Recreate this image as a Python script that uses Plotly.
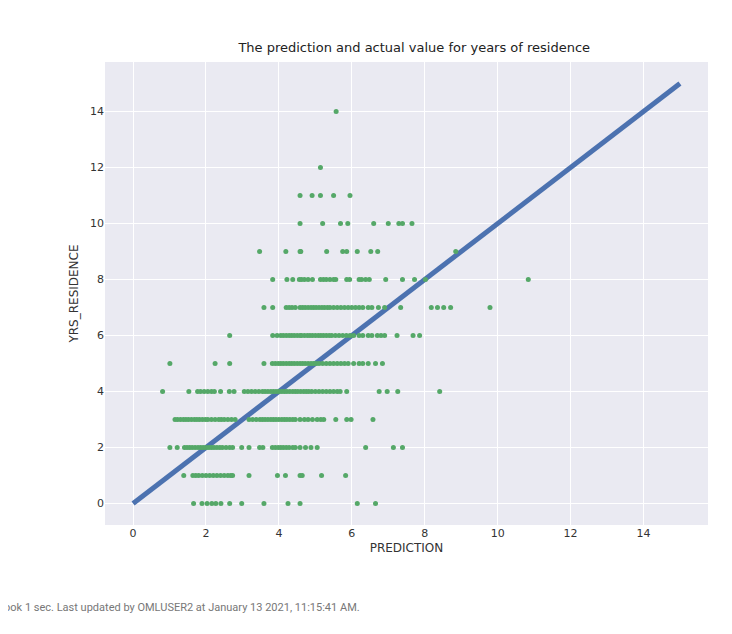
import plotly.graph_objects as go

# actual YRS_RESIDENCE rows and predictions observed in each row
rows = {
    14: [5.57],
    12: [5.14],
    11: [4.58, 4.91, 5.14, 5.5, 5.95],
    10: [4.58, 5.2, 5.69, 5.89, 6.6, 7.0, 7.29, 7.39, 7.65],
    9: [3.47, 4.19, 4.58, 4.6, 5.31, 5.75, 5.86, 6.15, 6.52, 6.71, 8.85],
    8: [3.83, 4.22, 4.38, 4.56, 4.62, 4.7, 4.8, 4.92, 5.14, 5.22, 5.3, 5.4, 5.5, 5.56,
        5.86, 5.94, 6.2, 6.27, 6.38, 6.48, 6.93, 7.39, 7.72, 8.02, 10.84],
    7: [3.59, 3.83, 4.2, 4.28, 4.36, 4.45, 4.58, 4.65, 4.72, 4.8, 4.88, 4.95, 5.02, 5.1,
        5.18, 5.25, 5.33, 5.4, 5.5, 5.6, 5.7, 5.8, 5.9, 6.0, 6.1, 6.2, 6.3, 6.45, 6.55,
        6.73, 6.9, 7.34, 8.18, 8.35, 8.52, 8.71, 9.79],
    6: [2.65, 3.83, 3.95, 4.05, 4.12, 4.2, 4.28, 4.35, 4.42, 4.5, 4.58, 4.62, 4.7, 4.78,
        4.85, 4.92, 5.0, 5.08, 5.15, 5.22, 5.3, 5.38, 5.45, 5.55, 5.65, 5.75, 5.85, 5.95,
        6.05, 6.2, 6.3, 6.45, 6.55, 6.7, 6.8, 6.9, 7.24, 7.68, 7.86],
    5: [1.01, 2.25, 2.65, 3.59, 3.82, 3.9, 3.98, 4.05, 4.12, 4.2, 4.28, 4.35, 4.42, 4.5,
        4.58, 4.65, 4.72, 4.8, 4.88, 4.95, 5.02, 5.1, 5.2, 5.3, 5.4, 5.5, 5.6, 5.7, 5.8,
        5.9, 6.05, 6.2, 6.3, 6.45, 6.65, 6.84],
    4: [0.81, 1.53, 1.77, 1.85, 1.95, 2.05, 2.15, 2.23, 2.4, 2.64, 2.77, 3.05, 3.15,
        3.25, 3.35, 3.45, 3.55, 3.62, 3.7, 3.78, 3.85, 3.92, 4.0, 4.08, 4.15, 4.22, 4.3,
        4.38, 4.45, 4.52, 4.6, 4.68, 4.75, 4.82, 4.9, 5.0, 5.1, 5.2, 5.3, 5.4, 5.5, 5.6,
        5.68, 5.86, 6.75, 6.97, 7.26, 8.41],
    3: [1.15, 1.22, 1.3, 1.38, 1.45, 1.52, 1.6, 1.68, 1.75, 1.82, 1.9, 1.98, 2.05, 2.15,
        2.25, 2.35, 2.42, 2.5, 2.6, 2.7, 2.8, 3.18, 3.28, 3.38, 3.48, 3.55, 3.62, 3.7,
        3.78, 3.85, 3.92, 4.0, 4.08, 4.15, 4.22, 4.3, 4.38, 4.45, 4.58, 4.7, 4.8, 4.92,
        5.05, 5.15, 5.23, 5.56, 5.86, 5.98, 6.58],
    2: [1.01, 1.21, 1.41, 1.48, 1.55, 1.62, 1.7, 1.78, 1.85, 1.92, 2.0, 2.08, 2.15, 2.22,
        2.3, 2.38, 2.45, 2.55, 2.65, 2.73, 2.98, 3.18, 3.47, 3.56, 3.82, 3.9, 3.98, 4.05,
        4.12, 4.2, 4.28, 4.38, 4.45, 4.58, 4.73, 4.88, 5.05, 6.38, 7.14, 7.39],
    1: [1.39, 1.64, 1.72, 1.8, 1.9, 2.0, 2.1, 2.2, 2.3, 2.4, 2.5, 2.6, 2.68, 2.73, 3.18,
        3.96, 4.18, 4.58, 4.64, 5.17, 5.83],
    0: [1.66, 1.89, 2.03, 2.16, 2.27, 2.41, 2.65, 2.98, 3.59, 4.25, 4.58, 6.15, 6.65],
}
line_x = [0, 15]
line_y = [0, 15]

pred = [p for y, ps in rows.items() for p in ps]
actual = [y for y, ps in rows.items() for p in ps]

fig = go.Figure()
fig.add_trace(go.Scatter(x=line_x, y=line_y, mode="lines",
                         line=dict(color="#4c72b0", width=5), hoverinfo="skip"))
fig.add_trace(go.Scatter(x=pred, y=actual, mode="markers",
                         marker=dict(color="#55a868", size=5)))

axis = dict(showgrid=True, gridcolor="white", gridwidth=1.2, zeroline=False,
            ticks="", tickfont=dict(size=11, color="#333"), dtick=2,
            range=[-0.77, 15.77], showline=False)
fig.update_layout(
    width=732, height=634, paper_bgcolor="white", plot_bgcolor="#eaeaf2",
    showlegend=False, font=dict(family="DejaVu Sans", color="#333"),
    margin=dict(l=97, r=32, t=54, b=117),
    title=dict(text="The prediction and actual value for years of residence",
               x=0.555, xanchor="center", y=0.945, font=dict(size=13, color="#222")),
    xaxis=dict(axis, title=dict(text="PREDICTION", font=dict(size=12), standoff=4)),
    yaxis=dict(axis, title=dict(text="YRS_RESIDENCE", font=dict(size=12), standoff=8)),
)
fig.add_annotation(text="Took 1 sec. Last updated by OMLUSER2 at January 13 2021, 11:15:41 AM.",
                   xref="paper", yref="paper", x=-0.18, y=-0.178, xanchor="left",
                   yanchor="middle", showarrow=False,
                   font=dict(size=11, color="#777", family="Roboto"))
fig.write_html("out.html")
